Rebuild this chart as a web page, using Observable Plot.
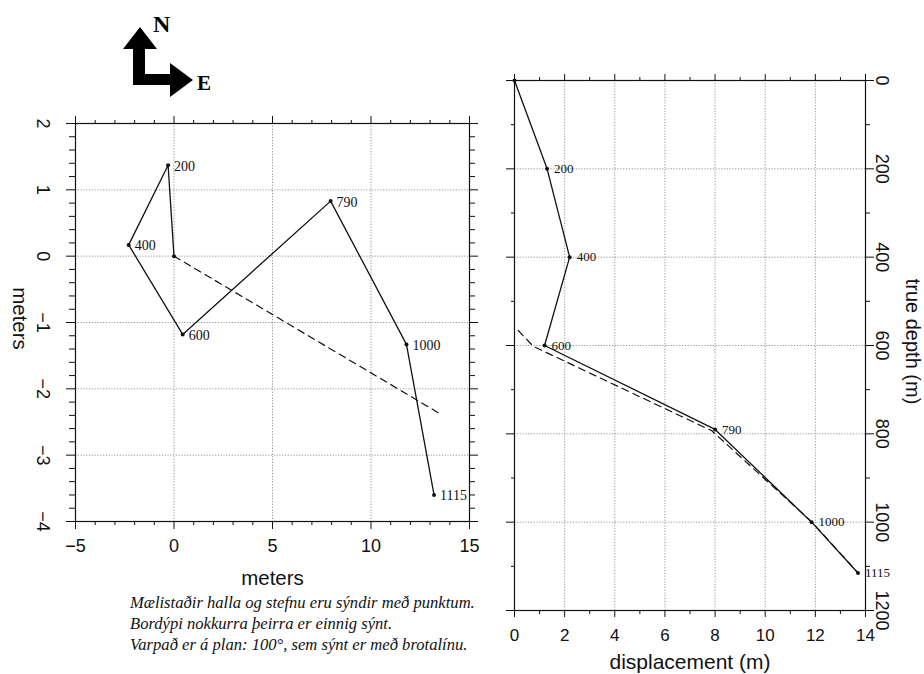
<!DOCTYPE html>
<html><head><meta charset="utf-8">
<script src="https://cdn.jsdelivr.net/npm/d3@7"></script>
<script src="https://cdn.jsdelivr.net/npm/@observablehq/plot@0.6"></script>
<style>
body{margin:0;background:#fff;}
#wrap{position:relative;width:924px;height:674px;overflow:hidden;background:#fff;}
#left,#right,#compass,#caption{position:absolute;}
#left{left:0;top:0;}
#right{left:480px;top:0;}
#compass{left:0;top:0;}
#caption{left:130px;top:592px;font-family:"Liberation Serif",serif;font-style:italic;font-size:16.6px;line-height:21px;color:#111;white-space:nowrap;}
</style></head><body>
<div id="wrap">
<svg id="compass" width="240" height="110" viewBox="0 0 240 110">
  <polygon points="140,27 157,49 145,49 145,74 170,74 170,63 193,80 170,97 170,85 133,85 133,49 123,49" fill="#000"/>
  <text x="153" y="32" font-family="Liberation Serif" font-weight="bold" font-size="24">N</text>
  <text x="197" y="90" font-family="Liberation Serif" font-weight="bold" font-size="21">E</text>
</svg>
<div id="left"></div>
<div id="right"></div>
<div id="caption">Mælistaðir halla og stefnu eru sýndir með punktum.<br>Bordýpi nokkurra þeirra er einnig sýnt.<br>Varpað er á plan: 100°, sem sýnt er með brotalínu.</div>
</div>
<script>
// Survey stations (measured depth, m)
const depths = [0, 200, 400, 600, 790, 1000, 1115];
// Plan view: east / north offsets (m)
const east  = [0, -0.3, -2.3, 0.44, 7.95, 11.8, 13.2];
const north = [0, 1.37, 0.17, -1.18, 0.83, -1.33, -3.6];
// Projection direction line (100°)
const projEast  = [0, 13.47];
const projNorth = [0, -2.37];
// Section view: displacement vs true depth
const displacement = [0, 1.3, 2.2, 1.2, 8.0, 11.85, 13.7];
const trueDepth    = [0, 200, 400, 600, 790, 1000, 1115];
// Projected (dashed) section
const dashDisp  = [0.15, 0.75, 7.87, 11.87, 13.7];
const dashDepth = [566, 602, 793, 1000, 1115];

// Tick values
const planXTicks = [-5, 0, 5, 10, 15];
const planXMinor = [-4,-3,-2,-1,1,2,3,4,6,7,8,9,11,12,13,14];
const planYTicks = [2, 1, 0, -1, -2, -3, -4];
const planYMinor = [1.8,1.6,1.4,1.2,0.8,0.6,0.4,0.2,-0.2,-0.4,-0.6,-0.8,-1.2,-1.4,-1.6,-1.8,-2.2,-2.4,-2.6,-2.8,-3.2,-3.4,-3.6,-3.8];
const planXGrid = [0, 5, 10];
const planYGrid = [1, 0, -1, -2, -3];
const secXTicks = [0, 2, 4, 6, 8, 10, 12, 14];
const secXMinor = [1, 3, 5, 7, 9, 11, 13];
const secYTicks = [0, 200, 400, 600, 800, 1000, 1200];
const secYMinor = [100, 300, 500, 700, 900, 1100];
const secXGrid = [2, 4, 6, 8, 10, 12];
const secYGrid = [200, 400, 600, 800, 1000];

const fmt = d => String(d).replace("-", "\u2212");
const sans = "Liberation Sans, Arial, sans-serif";
const serif = "Liberation Serif, Times New Roman, serif";
const gridStyle = {stroke: "#8a8a8a", strokeOpacity: 1, strokeWidth: 0.9, strokeDasharray: "1.2,1.6"};
const ink = "#111";
const mid = {textAnchor: "middle", lineAnchor: "middle"};

const plan = depths.map((d, i) => ({depth: d, east: east[i], north: north[i]}));
const proj = projEast.map((e, i) => ({east: e, north: projNorth[i]}));

const left = Plot.plot({
  width: 480, height: 600,
  marginLeft: 75, marginRight: 11, marginTop: 123, marginBottom: 79,
  x: {domain: [-5, 15], label: null},
  y: {domain: [-4, 2], label: null},
  style: {fontFamily: sans, background: "transparent", overflow: "visible"},
  marks: [
    Plot.gridX(planXGrid, gridStyle),
    Plot.gridY(planYGrid, gridStyle),
    Plot.frame({stroke: ink, strokeWidth: 1.2}),
    Plot.axisX(planXTicks, {anchor: "bottom", tickSize: 8, fill: "none", stroke: ink}),
    Plot.axisX(planXMinor, {anchor: "bottom", tickSize: 4, fill: "none", stroke: ink}),
    Plot.axisX(planXTicks, {anchor: "top", tickSize: 8, fill: "none", stroke: ink}),
    Plot.axisX(planXMinor, {anchor: "top", tickSize: 4, fill: "none", stroke: ink}),
    Plot.axisY(planYTicks, {anchor: "left", tickSize: 9, fill: "none", stroke: ink}),
    Plot.axisY(planYMinor, {anchor: "left", tickSize: 6, fill: "none", stroke: ink}),
    Plot.axisY(planYTicks, {anchor: "right", tickSize: 8, fill: "none", stroke: ink}),
    Plot.axisY(planYMinor, {anchor: "right", tickSize: 5, fill: "none", stroke: ink}),
    Plot.text(planXTicks, {x: d => d, text: fmt, frameAnchor: "bottom", dy: 25, fontSize: 18, fill: ink, ...mid}),
    Plot.text(planYTicks, {y: d => d, text: fmt, frameAnchor: "left", dx: -33, rotate: 90, fontSize: 18, fill: ink, ...mid}),
    Plot.text(["meters"], {text: d => d, frameAnchor: "bottom", dy: 57, fontSize: 20.5, fill: ink, ...mid}),
    Plot.text(["meters"], {text: d => d, frameAnchor: "left", dx: -56, dy: -4, rotate: 90, fontSize: 20.5, fill: ink, ...mid}),
    Plot.line(proj, {x: "east", y: "north", stroke: ink, strokeWidth: 1.2, strokeDasharray: "7,5"}),
    Plot.line(plan, {x: "east", y: "north", stroke: ink, strokeWidth: 1.3}),
    Plot.dot(plan, {x: "east", y: "north", r: 2, fill: ink}),
    Plot.text(plan.filter(d => d.depth > 0), {x: "east", y: "north", text: d => String(d.depth), textAnchor: "start", dx: 6, dy: 1, fontFamily: serif, fontSize: 14, fill: ink})
  ]
});
document.getElementById("left").appendChild(left);

const section = trueDepth.map((d, i) => ({depth: d, disp: displacement[i]}));
const dashed = dashDisp.map((x, i) => ({disp: x, depth: dashDepth[i]}));

const right = Plot.plot({
  width: 444, height: 674,
  marginLeft: 34, marginRight: 59, marginTop: 80, marginBottom: 64,
  x: {domain: [0, 14], label: null},
  y: {domain: [0, 1200], reverse: true, label: null},
  style: {fontFamily: sans, background: "transparent", overflow: "visible"},
  marks: [
    Plot.gridX(secXGrid, gridStyle),
    Plot.gridY(secYGrid, gridStyle),
    Plot.frame({stroke: ink, strokeWidth: 1.2}),
    Plot.axisX(secXTicks, {anchor: "bottom", tickSize: 7, fill: "none", stroke: ink}),
    Plot.axisX(secXMinor, {anchor: "bottom", tickSize: 4, fill: "none", stroke: ink}),
    Plot.axisX(secXTicks, {anchor: "top", tickSize: 7, fill: "none", stroke: ink}),
    Plot.axisX(secXMinor, {anchor: "top", tickSize: 4, fill: "none", stroke: ink}),
    Plot.axisY(secYTicks, {anchor: "left", tickSize: 8, fill: "none", stroke: ink}),
    Plot.axisY(secYMinor, {anchor: "left", tickSize: 3, fill: "none", stroke: ink}),
    Plot.axisY(secYTicks, {anchor: "right", tickSize: 8, fill: "none", stroke: ink}),
    Plot.axisY(secYMinor, {anchor: "right", tickSize: 4, fill: "none", stroke: ink}),
    Plot.text(secXTicks, {x: d => d, text: fmt, frameAnchor: "bottom", dy: 25, fontSize: 17, fill: ink, ...mid}),
    Plot.text(secYTicks, {y: d => d, text: fmt, frameAnchor: "right", dx: 16, rotate: 90, fontSize: 18, fill: ink, ...mid}),
    Plot.text(["displacement (m)"], {text: d => d, frameAnchor: "bottom", dy: 52, fontSize: 21, fill: ink, ...mid}),
    Plot.text(["true depth (m)"], {text: d => d, frameAnchor: "right", dx: 47, dy: -4, rotate: 90, fontSize: 20, fill: ink, ...mid}),
    Plot.line(dashed, {x: "disp", y: "depth", stroke: ink, strokeWidth: 1.2, strokeDasharray: "7,5"}),
    Plot.line(section, {x: "disp", y: "depth", stroke: ink, strokeWidth: 1.3}),
    Plot.dot(section, {x: "disp", y: "depth", r: 2, fill: ink}),
    Plot.text(section.filter(d => d.depth > 0), {x: "disp", y: "depth", text: d => String(d.depth), textAnchor: "start", dx: 7, fontFamily: serif, fontSize: 13, fill: ink})
  ]
});
document.getElementById("right").appendChild(right);
</script>
</body></html>
